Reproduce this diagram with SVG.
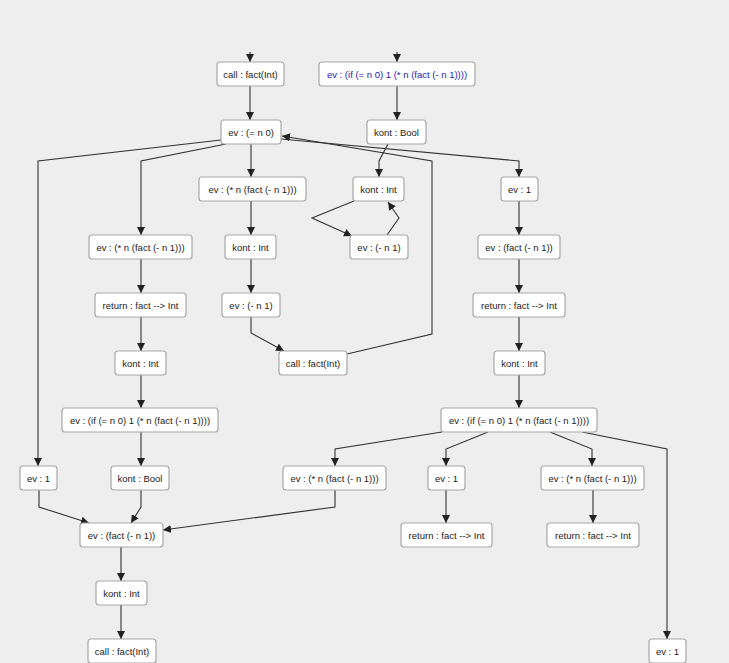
<svg xmlns="http://www.w3.org/2000/svg" width="729" height="663" viewBox="0 0 729 663">
<defs>
<marker id="ah" viewBox="0 0 10 10" refX="10" refY="5" markerWidth="8" markerHeight="8" markerUnits="userSpaceOnUse" orient="auto">
<path d="M0,0 L10,5 L0,10 z" fill="#222"/>
</marker>
<style>
.n rect{fill:#fff;stroke:#a8a8a8;stroke-width:1.2}
.n text{font-family:"Liberation Sans",Arial,sans-serif;font-size:9.5px;fill:#222;text-anchor:middle}
.n text.b{fill:#2222b8}
#edges path{fill:none;stroke:#333;stroke-width:1.1;marker-end:url(#ah)}
</style>
</defs>
<rect width="729" height="663" fill="#eeeeee"/>
<g id="edges">
<path d="M250,52 L250,62"/>
<path d="M397,52 L397,62"/>
<path d="M250,86 L250,120"/>
<path d="M397,86 L397,120"/>
<path d="M221,140 L38,161 L38,466"/>
<path d="M226,144 L141,161 L141,235"/>
<path d="M251,144 L251,177"/>
<path d="M281,139 L519,161 L519,177"/>
<path d="M347,354 L432,334 L432,161 L282,136"/>
<path d="M388,144 L379,161 L379,177"/>
<path d="M354,201 L312,218 L352,236"/>
<path d="M387,235 L399,218 L388,202"/>
<path d="M251,201 L251,235"/>
<path d="M251,259 L251,293"/>
<path d="M251,317 L251,333 L284,351"/>
<path d="M141,259 L141,293"/>
<path d="M141,317 L141,351"/>
<path d="M141,375 L141,408"/>
<path d="M141,432 L141,466"/>
<path d="M39,490 L39,507 L89,523"/>
<path d="M141,490 L141,507 L131,523"/>
<path d="M335,490 L335,507 L163,530"/>
<path d="M519,201 L519,235"/>
<path d="M519,259 L519,293"/>
<path d="M519,317 L519,351"/>
<path d="M519,375 L519,408"/>
<path d="M442,432 L335,449 L335,466"/>
<path d="M488,432 L446,449 L446,466"/>
<path d="M550,432 L592,449 L592,466"/>
<path d="M582,432 L667,449 L667,639"/>
<path d="M446,490 L446,523"/>
<path d="M593,490 L593,523"/>
<path d="M121,547 L121,581"/>
<path d="M121,605 L121,639"/>
</g>
<g id="n1" class="n"><rect x="217" y="62" width="67" height="24" rx="3"/><text x="250.5" y="77.5">call : fact(Int)</text></g>
<g id="n2" class="n"><rect x="319" y="62" width="156" height="24" rx="3"/><text class="b" x="397" y="77.5">ev : (if (= n 0) 1 (* n (fact (- n 1))))</text></g>
<g id="n3" class="n"><rect x="221" y="120" width="60" height="24" rx="3"/><text x="251" y="135.5">ev : (= n 0)</text></g>
<g id="n4" class="n"><rect x="367" y="120" width="59" height="24" rx="3"/><text x="396.5" y="135.5">kont : Bool</text></g>
<g id="n5" class="n"><rect x="353" y="177" width="51" height="24" rx="3"/><text x="378.5" y="192.5">kont : Int</text></g>
<g id="n6" class="n"><rect x="199" y="177" width="107" height="24" rx="3"/><text x="252.5" y="192.5">ev : (* n (fact (- n 1)))</text></g>
<g id="n7" class="n"><rect x="501" y="177" width="37" height="24" rx="3"/><text x="519.5" y="192.5">ev : 1</text></g>
<g id="n8" class="n"><rect x="89" y="235" width="103" height="24" rx="3"/><text x="140.5" y="250.5">ev : (* n (fact (- n 1)))</text></g>
<g id="n9" class="n"><rect x="225" y="235" width="51" height="24" rx="3"/><text x="250.5" y="250.5">kont : Int</text></g>
<g id="n10" class="n"><rect x="350" y="235" width="58" height="24" rx="3"/><text x="379" y="250.5">ev : (- n 1)</text></g>
<g id="n11" class="n"><rect x="478" y="235" width="82" height="24" rx="3"/><text x="519" y="250.5">ev : (fact (- n 1))</text></g>
<g id="n12" class="n"><rect x="95" y="293" width="91" height="24" rx="3"/><text x="140.5" y="308.5">return : fact --&gt; Int</text></g>
<g id="n13" class="n"><rect x="222" y="293" width="58" height="24" rx="3"/><text x="251" y="308.5">ev : (- n 1)</text></g>
<g id="n14" class="n"><rect x="473" y="293" width="92" height="24" rx="3"/><text x="519" y="308.5">return : fact --&gt; Int</text></g>
<g id="n15" class="n"><rect x="115" y="351" width="51" height="24" rx="3"/><text x="140.5" y="366.5">kont : Int</text></g>
<g id="n16" class="n"><rect x="279" y="351" width="68" height="24" rx="3"/><text x="313" y="366.5">call : fact(Int)</text></g>
<g id="n17" class="n"><rect x="494" y="351" width="51" height="24" rx="3"/><text x="519.5" y="366.5">kont : Int</text></g>
<g id="n18" class="n"><rect x="62" y="408" width="156" height="24" rx="3"/><text x="140" y="423.5">ev : (if (= n 0) 1 (* n (fact (- n 1))))</text></g>
<g id="n19" class="n"><rect x="441" y="408" width="156" height="24" rx="3"/><text x="519" y="423.5">ev : (if (= n 0) 1 (* n (fact (- n 1))))</text></g>
<g id="n20" class="n"><rect x="20" y="466" width="37" height="24" rx="3"/><text x="38.5" y="481.5">ev : 1</text></g>
<g id="n21" class="n"><rect x="111" y="466" width="58" height="24" rx="3"/><text x="140" y="481.5">kont : Bool</text></g>
<g id="n22" class="n"><rect x="283" y="466" width="103" height="24" rx="3"/><text x="334.5" y="481.5">ev : (* n (fact (- n 1)))</text></g>
<g id="n23" class="n"><rect x="428" y="466" width="37" height="24" rx="3"/><text x="446.5" y="481.5">ev : 1</text></g>
<g id="n24" class="n"><rect x="541" y="466" width="103" height="24" rx="3"/><text x="592.5" y="481.5">ev : (* n (fact (- n 1)))</text></g>
<g id="n25" class="n"><rect x="80" y="523" width="83" height="24" rx="3"/><text x="121.5" y="538.5">ev : (fact (- n 1))</text></g>
<g id="n26" class="n"><rect x="401" y="523" width="91" height="24" rx="3"/><text x="446.5" y="538.5">return : fact --&gt; Int</text></g>
<g id="n27" class="n"><rect x="547" y="523" width="92" height="24" rx="3"/><text x="593" y="538.5">return : fact --&gt; Int</text></g>
<g id="n28" class="n"><rect x="96" y="581" width="51" height="24" rx="3"/><text x="121.5" y="596.5">kont : Int</text></g>
<g id="n29" class="n"><rect x="88" y="639" width="68" height="24" rx="3"/><text x="122" y="654.5">call : fact(Int)</text></g>
<g id="n30" class="n"><rect x="649" y="639" width="37" height="24" rx="3"/><text x="667.5" y="654.5">ev : 1</text></g>
</svg>
